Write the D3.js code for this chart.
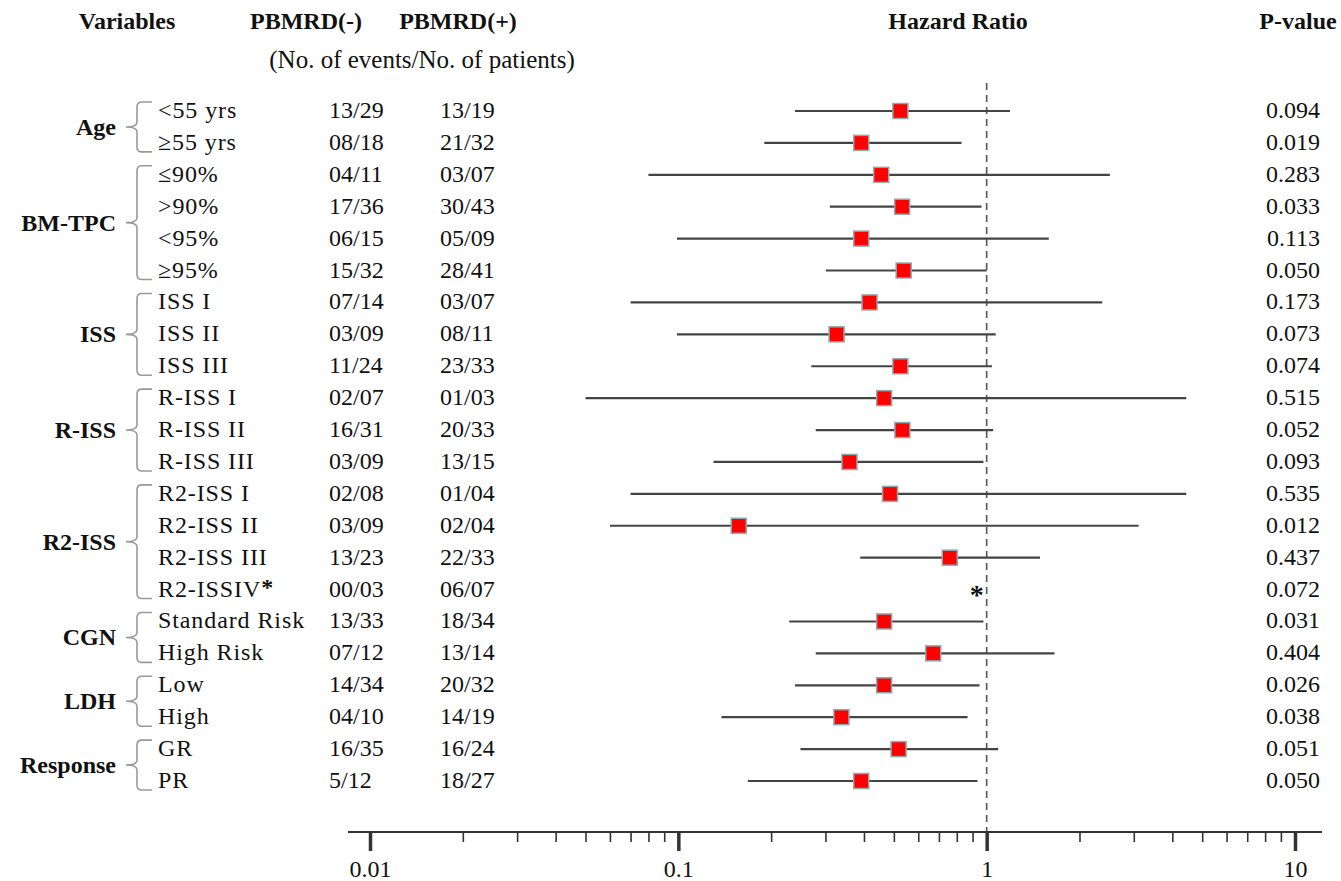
<html>
<head>
<title>Forest plot | D3</title>
<script src="https://d3js.org/d3.v7.min.js" charset="utf-8"></script>
<style>
body { margin: 0; background: white; font-family: "Liberation Serif", "Times New Roman", serif; }
text { fill: #111; }
.head { font-weight: bold; font-size: 24px; }
.grp { font-weight: bold; font-size: 24px; }
.cell { font-size: 24px; }
.sub { letter-spacing: 0.9px; }
.brace { fill: none; stroke: #999; stroke-width: 1.6; }
</style>
</head>
<body>
<script>
// group names and how many rows each has
var groups = ["Age", "BM-TPC", "ISS", "R-ISS", "R2-ISS", "CGN", "LDH", "Response"];
var groupSizes = [2, 4, 3, 3, 4, 2, 2, 2];

var subgroups = ["<55 yrs", "\u226555 yrs", "\u226490%", ">90%", "<95%", "\u226595%",
  "ISS I", "ISS II", "ISS III", "R-ISS I", "R-ISS II", "R-ISS III",
  "R2-ISS I", "R2-ISS II", "R2-ISS III", "R2-ISSIV",
  "Standard Risk", "High Risk", "Low", "High", "GR", "PR"];

var negEvents = ["13/29", "08/18", "04/11", "17/36", "06/15", "15/32", "07/14", "03/09", "11/24",
  "02/07", "16/31", "03/09", "02/08", "03/09", "13/23", "00/03", "13/33", "07/12", "14/34", "04/10", "16/35", "5/12"];
var posEvents = ["13/19", "21/32", "03/07", "30/43", "05/09", "28/41", "03/07", "08/11", "23/33",
  "01/03", "20/33", "13/15", "01/04", "02/04", "22/33", "06/07", "18/34", "13/14", "20/32", "14/19", "16/24", "18/27"];

// hazard ratio and 95% CI (null = not estimable)
var hr    = [0.525, 0.392, 0.455, 0.532, 0.392, 0.538, 0.417, 0.326, 0.525, 0.465, 0.533, 0.359,
  0.486, 0.157, 0.759, null, 0.465, 0.671, 0.465, 0.338, 0.518, 0.392];
var lower = [0.239, 0.190, 0.080, 0.310, 0.099, 0.301, 0.070, 0.099, 0.270, 0.050, 0.279, 0.130,
  0.070, 0.060, 0.389, null, 0.229, 0.279, 0.239, 0.138, 0.249, 0.168];
var upper = [1.19, 0.829, 2.51, 0.962, 1.59, 1.00, 2.37, 1.07, 1.04, 4.44, 1.05, 0.976,
  4.44, 3.11, 1.49, null, 0.976, 1.66, 0.948, 0.867, 1.09, 0.934];

var pValues = ["0.094", "0.019", "0.283", "0.033", "0.113", "0.050", "0.173", "0.073", "0.074",
  "0.515", "0.052", "0.093", "0.535", "0.012", "0.437", "0.072", "0.031", "0.404", "0.026", "0.038", "0.051", "0.050"];

var axisMajor = [0.01, 0.1, 1, 10];
var axisLabels = ["0.01", "0.1", "1", "10"];

var width = 1341, height = 881;

var svg = d3.select("body").append("svg")
  .attr("width", width)
  .attr("height", height);

var x = d3.scaleLog().domain([0.01, 10]).range([370, 1295]);
var y = d3.scalePoint().domain(d3.range(subgroups.length)).range([111, 781]);
var axisY = 832;

// headers
var heads = [
  {t: "Variables", x: 127}, {t: "PBMRD(-)", x: 306}, {t: "PBMRD(+)", x: 458},
  {t: "Hazard Ratio", x: 958}, {t: "P-value", x: 1298}
];
svg.selectAll(".head").data(heads).enter().append("text")
  .attr("class", "head")
  .attr("x", function(d) { return d.x; })
  .attr("y", 29)
  .attr("text-anchor", "middle")
  .text(function(d) { return d.t; });
svg.append("text").attr("class", "cell")
  .attr("x", 422).attr("y", 68)
  .attr("text-anchor", "middle")
  .style("font-size", "25px")
  .text("(No. of events/No. of patients)");

// reference line at HR = 1
svg.append("line")
  .attr("x1", x(1)).attr("x2", x(1))
  .attr("y1", 83).attr("y2", axisY)
  .attr("stroke", "#555")
  .attr("stroke-width", 1.6)
  .attr("stroke-dasharray", "7,5");

// group labels and braces
var start = 0;
groups.forEach(function(g, gi) {
  var i0 = start, i1 = start + groupSizes[gi] - 1;
  start += groupSizes[gi];
  var top = y(i0) - 9, bot = y(i1) + 9, mid = (top + bot) / 2;
  var xr = 152, xv = 137, xt = 126, r = 5;
  var p = "M" + xr + "," + top +
    " L" + (xv + r) + "," + top +
    " Q" + xv + "," + top + " " + xv + "," + (top + r) +
    " L" + xv + "," + (mid - r) +
    " Q" + xv + "," + mid + " " + xt + "," + mid +
    " Q" + xv + "," + mid + " " + xv + "," + (mid + r) +
    " L" + xv + "," + (bot - r) +
    " Q" + xv + "," + bot + " " + (xv + r) + "," + bot +
    " L" + xr + "," + bot;
  svg.append("path").attr("class", "brace").attr("d", p);
  svg.append("text").attr("class", "grp")
    .attr("x", 116).attr("y", mid + 8)
    .attr("text-anchor", "end")
    .text(g);
});

// table columns
var rows = svg.append("g").selectAll("g")
  .data(d3.range(subgroups.length)).enter().append("g");

var lab = rows.append("text").attr("class", "cell sub")
  .attr("x", 158).attr("y", function(i) { return y(i) + 7; })
  .text(function(i) { return subgroups[i]; });
lab.filter(function(i) { return hr[i] === null; })
  .append("tspan").attr("font-weight", "bold").attr("dy", -2).text("*");

rows.append("text").attr("class", "cell")
  .attr("x", 329).attr("y", function(i) { return y(i) + 7; })
  .text(function(i) { return negEvents[i]; });
rows.append("text").attr("class", "cell")
  .attr("x", 440).attr("y", function(i) { return y(i) + 7; })
  .text(function(i) { return posEvents[i]; });
rows.append("text").attr("class", "cell")
  .attr("x", 1320).attr("y", function(i) { return y(i) + 7; })
  .attr("text-anchor", "end")
  .text(function(i) { return pValues[i]; });

// confidence intervals and point estimates
var est = rows.filter(function(i) { return hr[i] !== null; });
est.append("line")
  .attr("x1", function(i) { return x(lower[i]); })
  .attr("x2", function(i) { return x(upper[i]); })
  .attr("y1", function(i) { return y(i); })
  .attr("y2", function(i) { return y(i); })
  .attr("stroke", "#444")
  .attr("stroke-width", 2.2);
est.append("rect")
  .attr("x", function(i) { return x(hr[i]) - 7.5; })
  .attr("y", function(i) { return y(i) - 7.5; })
  .attr("width", 15).attr("height", 15)
  .attr("fill", "#ff0000")
  .attr("stroke", "#8fa9ad")
  .attr("stroke-width", 1.5);
rows.filter(function(i) { return hr[i] === null; }).append("text")
  .attr("x", x(1) - 10).attr("y", function(i) { return y(i) + 14; })
  .attr("text-anchor", "middle")
  .attr("font-size", "28px").attr("font-weight", "bold")
  .text("*");

// x axis
var ax = svg.append("g").attr("transform", "translate(0," + axisY + ")");
ax.append("line")
  .attr("x1", x.range()[0] - 22).attr("x2", x.range()[1] + 27)
  .attr("stroke", "#333").attr("stroke-width", 2);

var minor = [];
axisMajor.slice(0, 3).forEach(function(m) {
  for (var k = 2; k <= 9; k++) minor.push(m * k);
});
var minorAxis = d3.axisBottom(x).tickValues(minor).tickSize(10).tickSizeOuter(0).tickFormat("");
var mg = ax.append("g").call(minorAxis);
mg.select(".domain").remove();
mg.selectAll(".tick line").attr("stroke", "#333").attr("stroke-width", 1.6);

var majorAxis = d3.axisBottom(x).tickValues(axisMajor).tickSize(19).tickSizeOuter(0)
  .tickFormat(function(d, i) { return axisLabels[i]; });
var mj = ax.append("g").call(majorAxis);
mj.select(".domain").remove();
mj.selectAll(".tick line").attr("stroke", "#333").attr("stroke-width", 3.5);
mj.selectAll(".tick text")
  .attr("y", 28)
  .attr("font-family", "Liberation Serif, Times New Roman, serif")
  .attr("font-size", "24px")
  .attr("fill", "#111");
</script>
</body>
</html>
